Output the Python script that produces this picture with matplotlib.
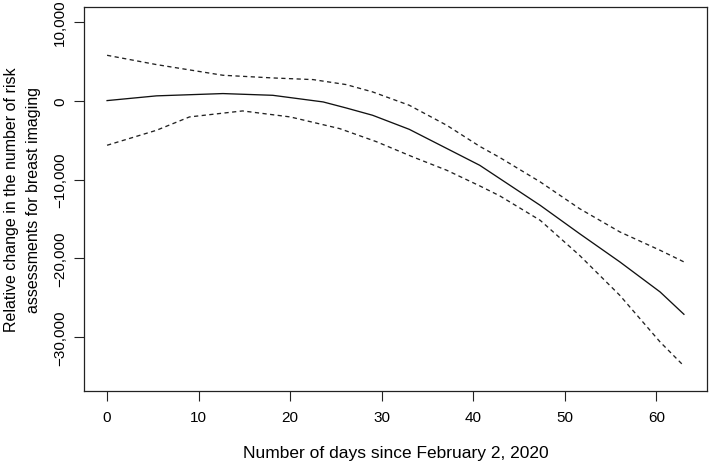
import matplotlib
matplotlib.use("Agg")
import matplotlib.pyplot as plt
from matplotlib.ticker import FuncFormatter

plt.rcParams['font.family'] = ['Liberation Sans', 'DejaVu Sans']

fit_days = [0, 5.4, 12.65, 18.1, 23.6, 26.1, 29.0, 33.0, 40.7, 42.9, 47.3, 51.6, 56.0, 60.4, 63]
fit_vals = [0, 600, 890, 670, -170, -930, -1860, -3640, -8200, -9890, -13270, -16860, -20440, -24250, -27080]

upper_days = [0, 5.4, 12.65, 18.1, 22.5, 26.1, 29.0, 33.0, 37.1, 40.7, 42.9, 47.3, 51.6, 56.0, 60.4, 63]
upper_vals = [5740, 4560, 3210, 2870, 2660, 2030, 1100, -590, -3130, -5800, -7220, -10300, -13690, -16640, -18970, -20440]

lower_days = [0, 5.4, 9.0, 14.8, 20.0, 25.4, 29.4, 33.4, 37.1, 40.7, 42.9, 47.3, 51.6, 56.0, 60.4, 63]
lower_vals = [-5660, -3760, -2070, -1310, -2070, -3550, -5200, -7140, -8830, -10810, -12080, -15170, -19610, -24680, -30590, -33630]

x_ticks = [0, 10, 20, 30, 40, 50, 60]
y_ticks = [10000, 0, -10000, -20000, -30000]

fig = plt.figure(figsize=(7.09, 4.64), dpi=100)
ax = fig.add_axes([84/709, 1-392/464, (707-84)/709, (392-8)/464])

ax.plot(fit_days, fit_vals, color='#111111', lw=0.95, solid_joinstyle='round')
ax.plot(upper_days, upper_vals, color='#222222', lw=0.95, linestyle=(0, (3.2, 2.6)))
ax.plot(lower_days, lower_vals, color='#222222', lw=0.95, linestyle=(0, (3.2, 2.6)))

ax.set_xlim(-2.52, 65.52)
ax.set_ylim(-36800, 11860)
ax.set_xticks(x_ticks)
ax.set_yticks(y_ticks)
ax.yaxis.set_major_formatter(FuncFormatter(lambda v, p: '\u2212' + f"{abs(int(v)):,}" if v < 0 else f"{int(v):,}"))
ax.tick_params(axis='both', direction='out', length=7, width=0.8, labelsize=11, color='#222222')
ax.tick_params(axis='x', pad=7)
ax.tick_params(axis='y', pad=5)
for lab in ax.get_yticklabels():
    lab.set_rotation(90)
    lab.set_va('center')
for s in ax.spines.values():
    s.set_linewidth(0.9)
    s.set_color('#222222')

ax.set_xlabel('Number of days since February 2, 2020', fontsize=12.5, labelpad=15)
ax.set_ylabel('Relative change in the number of risk\nassessments for breast imaging', fontsize=11.5, labelpad=9, linespacing=1.55)

fig.savefig('out.png', dpi=100)
